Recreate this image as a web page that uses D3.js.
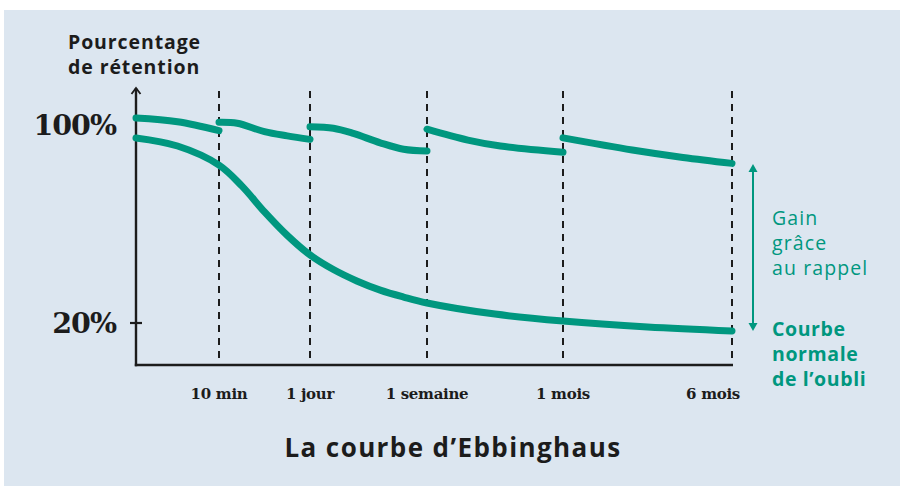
<!DOCTYPE html>
<html><head><meta charset="utf-8">
<script src="https://cdn.jsdelivr.net/npm/d3@7"></script>
<style>html,body{margin:0;padding:0;background:#fff;}svg{display:block;}</style>
</head><body>
<svg id="chart" width="900" height="486"></svg>
<script>
// ---- data ----
const tickLabels = ["10 min", "1 jour", "1 semaine", "1 mois", "6 mois"];
const tickPositions = [1, 2, 3, 4, 5];           // time index of each marker
const yTicks = [100, 20];
// normal forgetting curve (time index, % retention)
const forgettingX = [0, 0.5, 1, 1.25, 1.5, 1.75, 2, 2.2, 2.4, 2.6, 2.8, 3, 3.5, 4, 4.5, 5];
const forgettingY = [94.75, 91.5, 83.8, 75.4, 64.9, 55.4, 47.5, 41.6, 37.0, 33.3, 30.5, 28.1, 23.6, 20.8, 18.4, 16.8];
// curve with recall (one segment between two recalls)
const recallSegX = [
  [0, 0.5, 1],
  [1, 1.2, 1.5, 1.75, 2],
  [2, 2.2, 2.37, 2.6, 2.8, 3],
  [3, 3.3, 3.54, 4],
  [4, 4.41, 4.71, 5]
];
const recallSegY = [
  [102.8, 101.3, 97.7],
  [101.1, 100.7, 97.3, 95.6, 94.2],
  [99.3, 98.7, 96.6, 92.8, 90.2, 89.5],
  [98.3, 93.9, 91.5, 89.0],
  [94.8, 89.9, 86.9, 84.5]
];

const svg = d3.select("#chart");
const green = "#00977f", ink = "#1c1c1c";
const sans = "'Open Sans'";
svg.append("rect").attr("x", 4).attr("y", 10).attr("width", 896).attr("height", 476).attr("fill", "#dce6f0");

const x = d3.scaleLinear().domain([0, 1, 2, 3, 4, 5]).range([136, 219, 310, 427, 563, 732]);
const y = d3.scaleLinear().domain([20, 100]).range([323, 125]);
const yAxisBottom = 365, yAxisTop = 88;

// dashed markers
svg.append("g").selectAll("line").data(tickPositions).join("line")
  .attr("x1", d => x(d)).attr("x2", d => x(d))
  .attr("y1", 91).attr("y2", yAxisBottom)
  .attr("stroke", ink).attr("stroke-width", 2).attr("stroke-dasharray", "7,6");

// axes
svg.append("line").attr("x1", x(0)).attr("x2", x(0)).attr("y1", yAxisTop).attr("y2", yAxisBottom + 1.2)
  .attr("stroke", ink).attr("stroke-width", 2.4);
svg.append("path").attr("d", `M${x(0)-4.5},${yAxisTop+6}L${x(0)},${yAxisTop}L${x(0)+4.5},${yAxisTop+6}`)
  .attr("fill", "none").attr("stroke", ink).attr("stroke-width", 1.8);
svg.append("line").attr("x1", x(0) - 1.2).attr("x2", x(5) + 1).attr("y1", yAxisBottom).attr("y2", yAxisBottom)
  .attr("stroke", ink).attr("stroke-width", 2.4);
svg.append("line").attr("x1", x(0) - 6).attr("x2", x(0) + 6).attr("y1", y(20)).attr("y2", y(20))
  .attr("stroke", ink).attr("stroke-width", 2.2);

// y labels
svg.append("g").selectAll("text").data(yTicks).join("text")
  .attr("x", 116).attr("y", d => y(d) + 10).attr("text-anchor", "end")
  .attr("font-family", "DejaVu Serif").attr("font-weight", "bold").attr("font-size", 28.5)
  .attr("fill", ink).attr("letter-spacing", -1).text(d => d + "%");

// x labels
svg.append("g").selectAll("text").data(tickPositions).join("text")
  .attr("x", (d, i) => i === 4 ? x(d) + 8 : x(d)).attr("y", 399)
  .attr("text-anchor", (d, i) => i === 4 ? "end" : "middle")
  .attr("font-family", "DejaVu Serif").attr("font-weight", "bold").attr("font-size", 15)
  .attr("fill", ink).attr("letter-spacing", -0.3).text((d, i) => tickLabels[i]);

// y title
const yt = svg.append("text").attr("font-family", sans).attr("font-weight", "bold").attr("font-size", 19.5)
  .attr("letter-spacing", 0.9).attr("fill", ink);
yt.append("tspan").attr("x", 68).attr("y", 49).text("Pourcentage");
yt.append("tspan").attr("x", 68).attr("y", 74).text("de rétention");

// curves
const line = d3.line().x(d => x(d[0])).y(d => y(d[1])).curve(d3.curveCatmullRom.alpha(0.5));
svg.append("path").datum(forgettingX.map((v, i) => [v, forgettingY[i]]))
  .attr("d", line).attr("fill", "none").attr("stroke", green).attr("stroke-width", 7).attr("stroke-linecap", "round");
recallSegX.forEach((seg, s) => {
  svg.append("path").datum(seg.map((v, i) => [v, recallSegY[s][i]]))
    .attr("d", line).attr("fill", "none").attr("stroke", green).attr("stroke-width", 7).attr("stroke-linecap", "round");
});

// gain arrow
const ax = 753, ay1 = 164, ay2 = 331;
svg.append("line").attr("x1", ax).attr("x2", ax).attr("y1", ay1 + 6).attr("y2", ay2 - 6).attr("stroke", green).attr("stroke-width", 2);
svg.append("path").attr("d", `M${ax-4.5},${ay1+8}L${ax},${ay1}L${ax+4.5},${ay1+8}Z`).attr("fill", green);
svg.append("path").attr("d", `M${ax-4.5},${ay2-8}L${ax},${ay2}L${ax+4.5},${ay2-8}Z`).attr("fill", green);

const g1 = svg.append("text").attr("font-family", sans).attr("font-size", 19.5).attr("letter-spacing", 1.1).attr("fill", green);
["Gain", "grâce", "au rappel"].forEach((t, i) => g1.append("tspan").attr("x", 772).attr("y", 225 + i * 25).text(t));
const g2 = svg.append("text").attr("font-family", sans).attr("font-weight", "bold").attr("font-size", 19.5).attr("letter-spacing", 0.6).attr("fill", green);
["Courbe", "normale", "de l’oubli"].forEach((t, i) => g2.append("tspan").attr("x", 772).attr("y", 336 + i * 25).text(t));

// title
svg.append("text").attr("x", 453).attr("y", 457).attr("text-anchor", "middle")
  .attr("font-family", sans).attr("font-weight", "bold").attr("font-size", 26).attr("letter-spacing", 1.4).attr("fill", ink)
  .text("La courbe d’Ebbinghaus");
</script>
</body></html>
